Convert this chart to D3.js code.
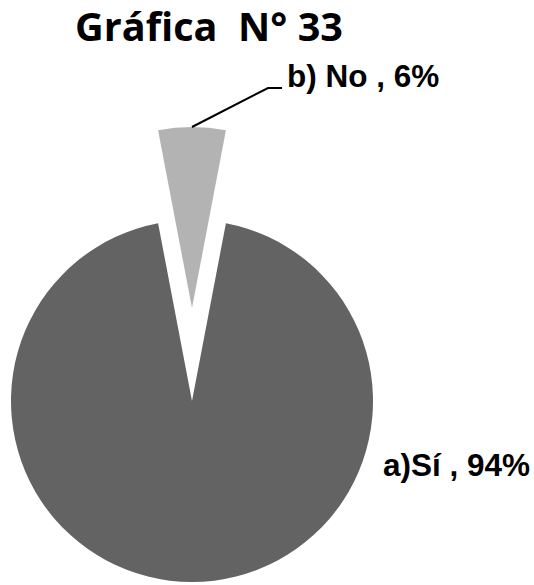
<!DOCTYPE html>
<html>
<head>
<meta charset="utf-8">
<script src="https://cdn.jsdelivr.net/npm/d3@7"></script>
<style>
  body { margin: 0; background: #fff; }
  svg { display: block; }
</style>
</head>
<body>
<svg id="chart"></svg>
<script>
let title = "Gráfica  N° 33";
let categories = ["a)Sí", "b) No"];
let values = [94, 6];
let colors = ["#636363", "#b3b3b3"];

function createPie() {
    let w = 534, h = 585;
    let cx = 192, cy = 401, radius = 181;
    let explode = [0, 93];

    let svg = d3.select("#chart")
        .attr("width", w)
        .attr("height", h);

    svg.append("text")
        .attr("x", 75)
        .attr("y", 41)
        .attr("font-family", "'Open Sans', sans-serif")
        .attr("font-weight", "bold")
        .attr("font-size", 39)
        .attr("textLength", 268)
        .attr("lengthAdjust", "spacingAndGlyphs")
        .style("white-space", "pre")
        .text(title);

    let total = d3.sum(values);
    let start = 2 * Math.PI * (values[1] / total) / 2;

    let pie = d3.pie()
        .sort(null)
        .startAngle(start)
        .endAngle(start + 2 * Math.PI);

    let arcs = pie(values);

    let arc = d3.arc()
        .innerRadius(0)
        .outerRadius(radius);

    let g = svg.append("g")
        .attr("transform", `translate(${cx},${cy})`);

    function offset(d, i) {
        let mid = (d.startAngle + d.endAngle) / 2;
        return [Math.sin(mid) * explode[i], -Math.cos(mid) * explode[i]];
    }

    g.selectAll("path")
        .data(arcs)
        .enter()
        .append("path")
        .attr("transform", (d, i) => `translate(${offset(d, i)})`)
        .attr("fill", (d, i) => colors[i])
        .attr("d", arc);

    // leader line for the small slice
    let no = arcs[1];
    let o = offset(no, 1);
    let mid = (no.startAngle + no.endAngle) / 2;
    let p0 = [o[0] + Math.sin(mid) * radius, o[1] - Math.cos(mid) * radius];
    let p1 = [76, -313];
    let p2 = [90, -313];
    g.append("polyline")
        .attr("points", [p0, p1, p2].map(p => p.join(",")).join(" "))
        .attr("fill", "none")
        .attr("stroke", "#000")
        .attr("stroke-width", 2);

    let labelPos = [[191, 75], [95, -314]];
    g.selectAll("text.lbl")
        .data(arcs)
        .enter()
        .append("text")
        .attr("class", "lbl")
        .attr("x", (d, i) => labelPos[i][0])
        .attr("y", (d, i) => labelPos[i][1])
        .attr("font-family", "'Liberation Sans', Arial, sans-serif")
        .attr("font-weight", "bold")
        .attr("font-size", 31.5)
        .text((d, i) => categories[i] + " , " + values[i] + "%");
}

window.onload = function() {
    createPie();
}
</script>
</body>
</html>
